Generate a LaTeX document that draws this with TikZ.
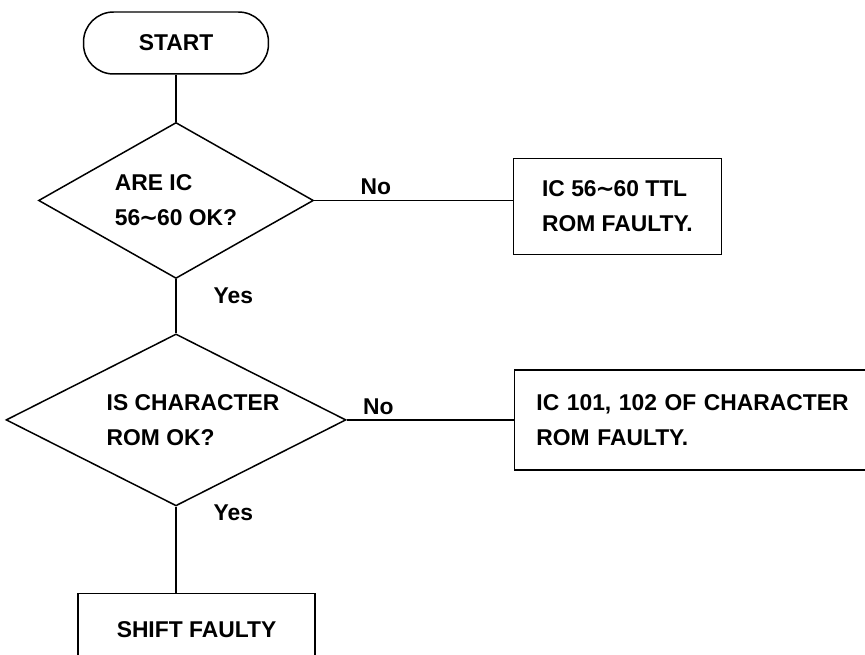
\documentclass[tikz,border=0pt]{standalone}
\usepackage{fontspec}
\setmainfont{Liberation Sans}
\newfontfamily\tildefont{DejaVu Sans}
\newcommand{\wtilde}{{\tildefont\kern-0.05em∼\kern-0.05em}}
\newcommand{\indentq}{\hspace*{0.68cm}}
\usetikzlibrary{shapes.geometric,positioning}

\begin{document}
\begin{tikzpicture}[
    x=0.02cm, y=-0.02cm,
    font=\fontsize{13}{20}\selectfont\bfseries,
    terminal/.style={rectangle, rounded corners=0.6cm, draw, line width=0.85pt,
                     minimum width=3.7cm, minimum height=1.24cm},
    check/.style={diamond, draw, line width=0.85pt, align=left, inner sep=0pt},
    fault/.style={rectangle, draw, line width=0.85pt, align=left,
                  minimum height=1.92cm},
    link/.style={line width=0.85pt},
    yeslab/.style={inner sep=0pt, right=0.74cm},
    nolab/.style={inner sep=0pt, above=0.09cm},
  ]
    \useasboundingbox (0,0) rectangle (865,655);
    \clip (0,0) rectangle (865,655);

    %% -- Main column -------------------------------------------
    \node[terminal] (start) at (176,43) {START};
    \node[check, aspect=1.76, minimum width=5.5cm, minimum height=3.12cm]
         (icok) [below=0.94cm of start] {ARE IC\\56\wtilde60 OK?};
    \node[check, aspect=2, minimum width=6.8cm, minimum height=3.44cm]
         (romok) [below=1.08cm of icok] {\indentq IS CHARACTER\\\indentq ROM OK?};
    \node[fault, align=center, minimum width=4.74cm, minimum height=1.44cm]
         (shift) [below=1.72cm of romok, xshift=0.41cm] {SHIFT FAULTY};

    %% -- Fault boxes -------------------------------------------
    \node[fault, minimum width=4.16cm]
         (ttl) [right=3.97cm of icok, yshift=-0.12cm] {IC 56\wtilde60 TTL\\ROM FAULTY.};
    \node[fault, text width=6.86cm, inner xsep=0.44cm, minimum height=2cm]
         (chrom) [right=3.34cm of romok] {IC 101, 102 OF CHARACTER\\ROM FAULTY.};

    %% -- Connectors --------------------------------------------
    \draw[link] (start) -- (icok);
    \draw[link] (icok.east) -- node[nolab, pos=0.31]{No} (icok.east -| ttl.west);
    \draw[link] (icok) -- node[yeslab, pos=0.3]{Yes} (romok);
    \draw[link] (romok.east) -- node[nolab, pos=0.19]{No} (romok.east -| chrom.west);
    \draw[link] (romok.south) -- node[yeslab, pos=0.07]{Yes} (romok.south |- shift.north);

\end{tikzpicture}
\end{document}
